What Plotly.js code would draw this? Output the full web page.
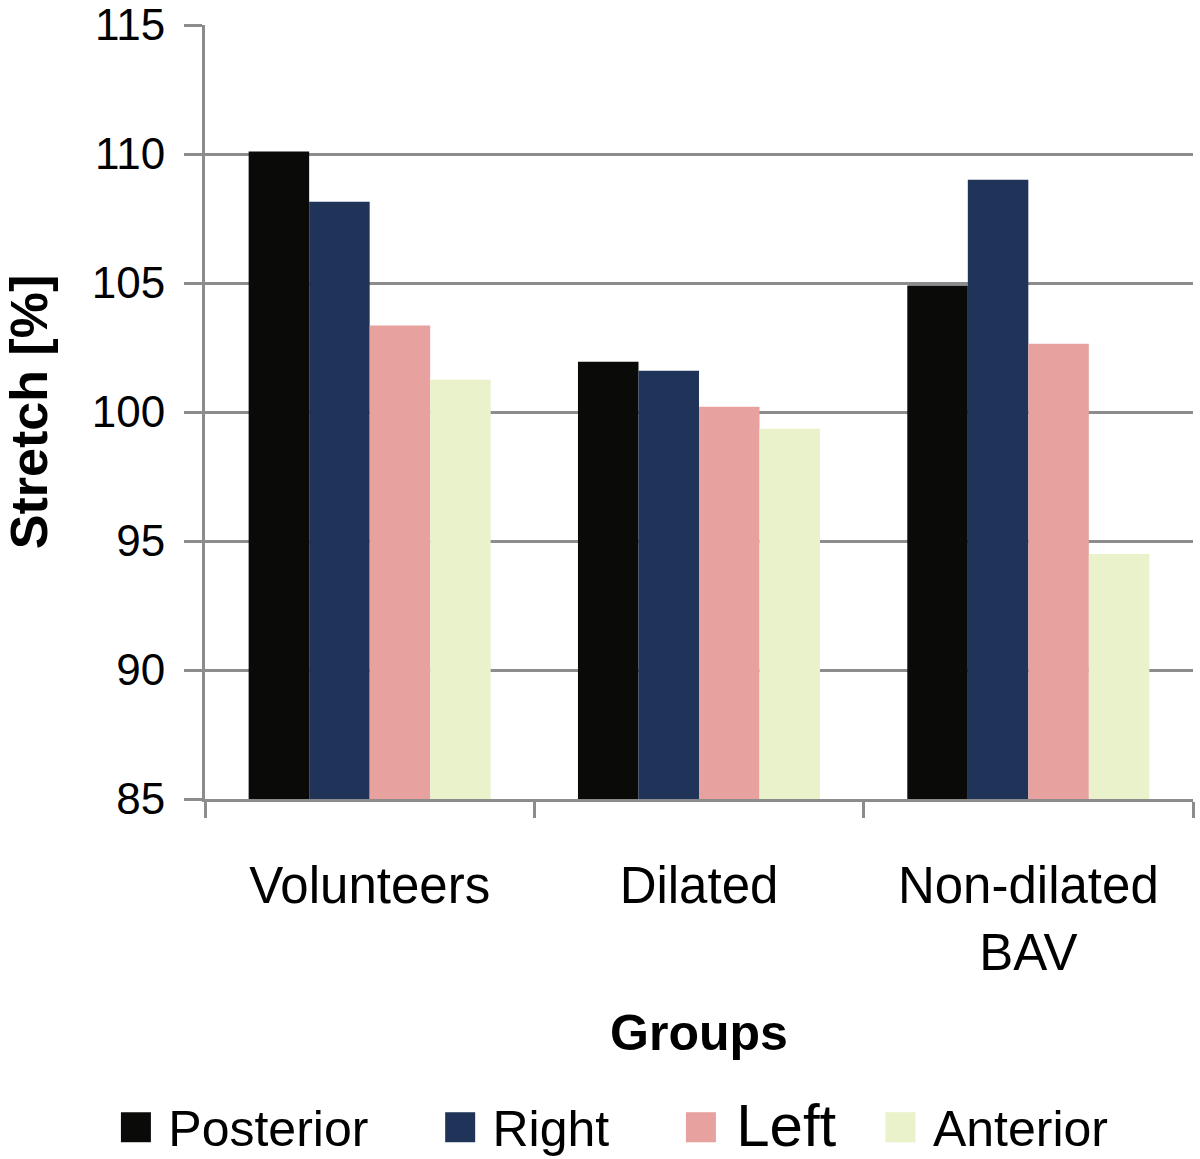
<!DOCTYPE html>
<html>
<head>
<meta charset="utf-8">
<script src="https://cdn.plot.ly/plotly-3.0.1.min.js"></script>
<style>
  html, body { margin: 0; padding: 0; background: #ffffff; }
  #chart { width: 1200px; height: 1159px; }
  .legendpoints { display: none; }
</style>
</head>
<body>
<div id="chart"></div>
<script>
// Data
const categories = ['Volunteers', 'Dilated', 'Non-dilated<br>BAV'];
const seriesNames = ['Posterior', 'Right', 'Left', 'Anterior'];
const posterior = [110.1, 101.95, 104.9];
const right = [108.15, 101.6, 109.0];
const left = [103.35, 100.2, 102.65];
const anterior = [101.25, 99.35, 94.5];
const yTickValues = [85, 90, 95, 100, 105, 110, 115];

const colors = ['#0a0a08', '#203359', '#e7a2a0', '#eaf2cc'];
const values = [posterior, right, left, anterior];
const legendFontSizes = [50, 50, 60, 50];
const legendTrailingGaps = [2, 2, 0, 0];
const gridColor = '#8c8c8c';
const fontFamily = '"Liberation Sans", Arial, sans-serif';

const traces = seriesNames.map((name, i) => ({
  type: 'bar',
  name: '<span style="color:' + colors[i] + ';font-size:62px">\u25A0</span>' +
        '<span style="font-size:' + legendFontSizes[i] + 'px">\u00A0' + name +
        '\u00A0'.repeat(legendTrailingGaps[i]) + '</span>',
  x: categories,
  y: values[i],
  marker: { color: colors[i], line: { width: 0 } },
  hoverinfo: 'x+y'
}));

const layout = {
  width: 1200,
  height: 1159,
  paper_bgcolor: '#ffffff',
  plot_bgcolor: '#ffffff',
  font: { family: fontFamily, color: '#000000', size: 44 },
  margin: { l: 205, r: 7, t: 25, b: 360, autoexpand: false },
  barmode: 'group',
  bargap: 0.265,
  bargroupgap: 0,
  showlegend: true,
  legend: {
    orientation: 'h',
    x: -0.1296,
    xanchor: 'left',
    y: -0.3566,
    yanchor: 'top',
    font: { family: fontFamily, size: 62, color: '#000000' },
    itemwidth: 30,
    bgcolor: 'rgba(0,0,0,0)'
  },
  xaxis: {
    type: 'category',
    automargin: false,
    showline: true,
    linecolor: gridColor,
    linewidth: 3,
    ticks: 'outside',
    tickson: 'boundaries',
    ticklen: 16,
    tickwidth: 3,
    tickcolor: gridColor,
    showgrid: false,
    zeroline: false,
    ticklabelstandoff: 40,
    tickfont: { family: fontFamily, size: 51, color: '#000000' },
    title: {
      text: '<b>Groups</b>',
      font: { family: fontFamily, size: 50, color: '#000000' },
      standoff: 36
    }
  },
  yaxis: {
    range: [85, 115],
    automargin: false,
    tickmode: 'array',
    tickvals: yTickValues,
    ticktext: yTickValues.map(String),
    showline: true,
    linecolor: gridColor,
    linewidth: 3,
    ticks: 'outside',
    ticklen: 18,
    tickwidth: 3,
    tickcolor: gridColor,
    showgrid: true,
    gridcolor: gridColor,
    gridwidth: 3,
    zeroline: false,
    ticklabelstandoff: 10,
    tickfont: { family: fontFamily, size: 44, color: '#000000' },
    title: {
      text: '<b>Stretch [%]</b>',
      font: { family: fontFamily, size: 52, color: '#000000' },
      standoff: 40
    }
  }
};

Plotly.newPlot('chart', traces, layout, { displayModeBar: false, staticPlot: true });
</script>
</body>
</html>
